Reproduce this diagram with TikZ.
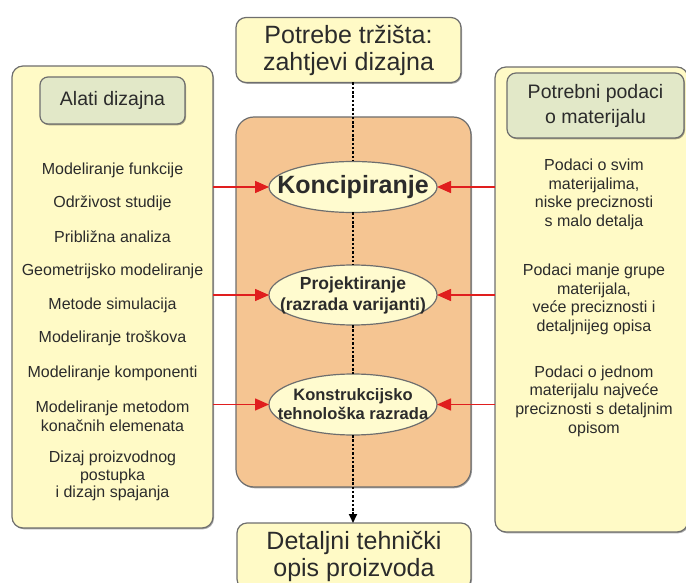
\documentclass[tikz,border=0pt]{standalone}
\usepackage{fontspec}
\setmainfont{Liberation Sans}
\usetikzlibrary{shapes.geometric,arrows.meta,shadows}
\definecolor{panel}{HTML}{FFFAC6}
\definecolor{hdr}{HTML}{E2E8C8}
\definecolor{orng}{HTML}{F5C592}
\definecolor{ellf}{HTML}{FFFBCF}
\definecolor{edge}{HTML}{6E6E6E}
\definecolor{txt}{HTML}{2B2B2B}
\definecolor{redarr}{HTML}{E01E1E}
\begin{document}
\begin{tikzpicture}[x=1pt,y=-1pt,
  box/.style={draw=edge, line width=1.2pt, rounded corners=#1, inner sep=0pt, outer sep=0pt,
    drop shadow={shadow xshift=1pt,shadow yshift=-1.3pt,fill=black,opacity=0.35}},
  ell/.style={ellipse, draw=edge, line width=1.2pt, fill=ellf, inner xsep=-30pt, inner ysep=-12pt, outer sep=0pt,
    minimum width=168pt, text=txt, align=center},
  body/.style={text=txt, font=\fontsize{16}{18.6}\selectfont, align=center, inner sep=0pt},
  head/.style={text=txt, font=\fontsize{19.5}{25}\selectfont, align=center, inner sep=0pt},
  big/.style={text=txt, font=\fontsize{25}{27}\selectfont, align=center, inner sep=0pt},
  dotline/.style={draw=black, line width=1.7pt, dash pattern=on 2.5pt off 1.8pt},
  redline/.style={draw=redarr, line width=1.6pt, -{Triangle[length=14pt,width=12pt]}}
]
\useasboundingbox (0,0) rectangle (686,583);
\clip (0,0) rectangle (686,583);

% side panels
\node[box=11pt, fill=panel, minimum width=201pt, minimum height=462pt] (L) at (112.5,297) {};
\node[box=11pt, fill=panel, minimum width=193pt, minimum height=465pt] (R) at (591.5,299.5) {};
\node[box=8pt, fill=hdr, minimum width=145pt, minimum height=47pt, head] (LH) at (112.5,100.5) {Alati dizajna};
\node[box=9pt, fill=hdr, minimum width=177pt, minimum height=65pt, head] (RH) at (595.5,105.5) {Potrebni podaci\\o materijalu};

% centre
\node[box=18pt, fill=orng, minimum width=235pt, minimum height=370pt] (O) at (353.5,302) {};
\node[box=10pt, fill=panel, minimum width=225pt, minimum height=65pt, big] (T) at (348.5,50) {Potrebe tržišta:\\zahtjevi dizajna};
\node[box=10pt, fill=panel, minimum width=234pt, minimum height=66pt, big] (B) at (354,556) {Detaljni tehnički\\opis proizvoda};

\node[ell, minimum height=51pt, font=\bfseries\fontsize{25}{27}\selectfont] (K) at (353,187) {Koncipiranje};
\node[ell, minimum height=60pt, font=\bfseries\fontsize{17.5}{21}\selectfont] (P) at (353,295) {Projektiranje\\(razrada varijanti)};
\node[ell, minimum height=61pt, font=\bfseries\fontsize{16.5}{19}\selectfont] (KT) at (353,404.5) {Konstrukcijsko\\tehnološka razrada};

% left list
\node[body] (l1) at (112.5,170) {Modeliranje funkcije};
\node[body] (l2) at (112.5,203.5) {Održivost studije};
\node[body] (l3) at (112.5,237) {Približna analiza};
\node[body] (l4) at (112.5,271) {Geometrijsko modeliranje};
\node[body] (l5) at (112.5,305) {Metode simulacija};
\node[body] (l6) at (112.5,338.5) {Modeliranje troškova};
\node[body] (l7) at (112.5,373) {Modeliranje komponenti};
\node[body] (l8) at (112.5,416) {Modeliranje metodom\\konačnih elemenata};
\node[body, font=\fontsize{16}{17.5}\selectfont] (l9) at (112.5,476) {Dizaj proizvodnog\\postupka\\i dizajn spajanja};

% right list
\node[body] (r1) at (594,194.5) {Podaci o svim\\materijalima,\\niske preciznosti\\s malo detalja};
\node[body] (r2) at (594,299.5) {Podaci manje grupe\\materijala,\\veće preciznosti i\\detaljnijeg opisa};
\node[body] (r3) at (594,401) {Podaci o jednom\\materijalu najveće\\preciznosti s detaljnim\\opisom};

% dotted flow
\draw[dotline] (T.south -| K.north) -- (K.north);
\draw[dotline] (K.south) -- (P.north);
\draw[dotline] (P.south) -- (KT.north);
\draw[dotline, -{Triangle[length=9pt,width=8pt]}] (KT.south) -- (B.north -| KT.south);

% red arrows
\foreach \e in {K,P,KT}{
  \draw[redline] (L.east |- \e.west) -- (\e.west);
  \draw[redline] (R.west |- \e.east) -- (\e.east);
}
\end{tikzpicture}
\end{document}
